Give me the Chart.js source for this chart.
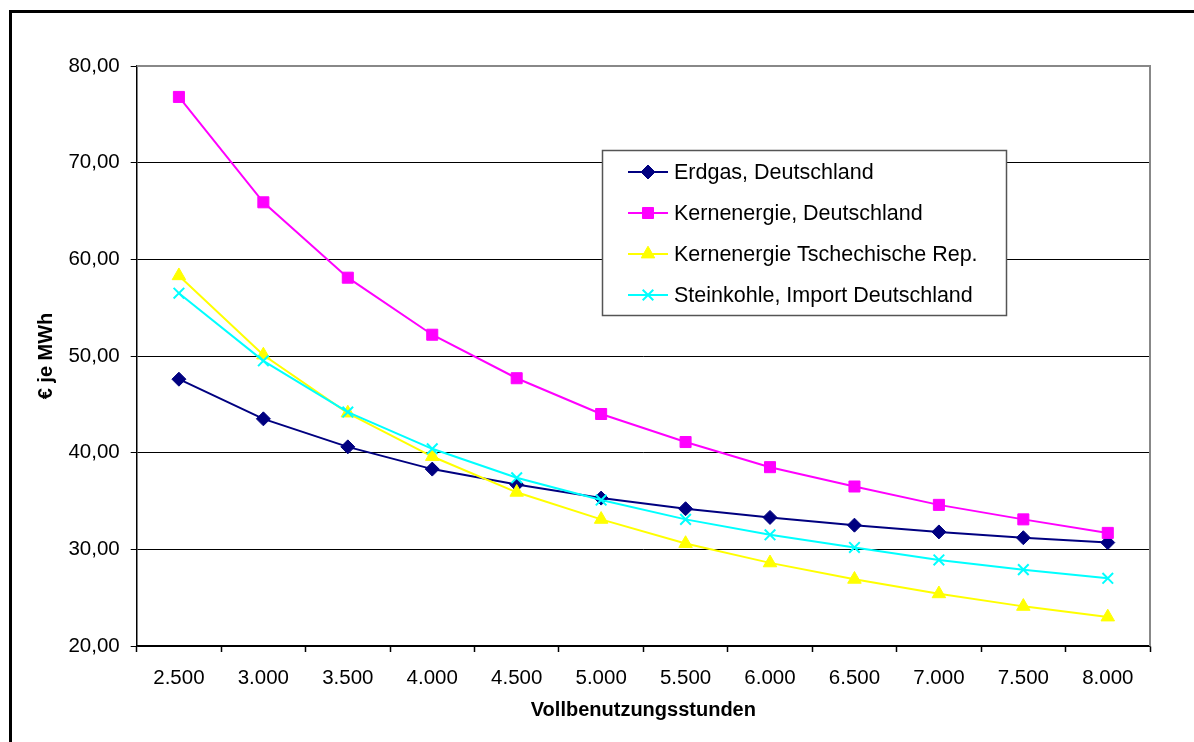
<!DOCTYPE html>
<html><head><meta charset="utf-8">
<script src="https://cdn.jsdelivr.net/npm/chart.js@4/dist/chart.umd.min.js"></script>
<style>
html,body{margin:0;padding:0;background:#fff;overflow:hidden}
#wrap{position:relative;width:1194px;height:742px}
#frame{position:absolute;left:9px;top:10px;width:1220px;height:800px;border-left:3px solid #000;border-top:3px solid #000;pointer-events:none}
</style></head>
<body><div id="wrap"><canvas id="c" width="1194" height="742"></canvas><div id="frame"></div></div>
<script>
const categories = ['2.500','3.000','3.500','4.000','4.500','5.000','5.500','6.000','6.500','7.000','7.500','8.000'];
const erdgasDE = [47.6,43.5,40.6,38.3,36.7,35.3,34.2,33.3,32.5,31.8,31.2,30.7];
const kernenergieDE = [76.8,65.9,58.1,52.2,47.7,44.0,41.1,38.5,36.5,34.6,33.1,31.7];
const kernenergieCZ = [58.3,50.1,44.1,39.6,35.9,33.1,30.6,28.6,26.9,25.4,24.1,23.0];
const steinkohleImport = [56.5,49.5,44.2,40.4,37.4,35.1,33.1,31.5,30.2,28.9,27.9,27.0];
const seriesNames = ['Erdgas, Deutschland','Kernenergie, Deutschland','Kernenergie Tschechische Rep.','Steinkohle, Import Deutschland'];
const yTickValues = [20,30,40,50,60,70,80];
const xTitle = 'Vollbenutzungsstunden';
const yTitle = '€ je MWh';

const FONT = '"Liberation Sans", Arial, Helvetica, sans-serif';
Chart.defaults.font.family = FONT;
Chart.defaults.color = '#000';

function ds(label, data, color, style, radius, order) {
  return {label, data, borderColor: color, backgroundColor: color, pointBackgroundColor: color,
    pointBorderColor: color, pointStyle: style, pointRadius: radius, pointHoverRadius: radius,
    pointBorderWidth: style === 'crossRot' ? 2 : 1, borderWidth: 2, tension: 0, order, clip: false};
}

const styles = [
  ['#000080','rectRot',7],
  ['#FF00FF','rect',7.8],
  ['#FFFF00','triangle',7.8],
  ['#00FFFF','crossRot',7.5]
];
const seriesData = [erdgasDE, kernenergieDE, kernenergieCZ, steinkohleImport];
const datasets = seriesData.map((d,i)=>ds(seriesNames[i], d, styles[i][0], styles[i][1], styles[i][2], 4-i));

function drawMarker(ctx, d, x, y) {
  ctx.save();
  ctx.fillStyle = d.pointBackgroundColor; ctx.strokeStyle = d.pointBorderColor;
  ctx.lineWidth = d.pointBorderWidth;
  if (Chart.helpers && Chart.helpers.drawPoint) {
    Chart.helpers.drawPoint(ctx, {pointStyle: d.pointStyle, radius: d.pointRadius, rotation: 0, borderWidth: d.pointBorderWidth}, x, y);
  }
  ctx.restore();
}

const frameAndLegend = {
  id: 'frameAndLegend',
  afterDatasetsDraw(chart) {
    const ctx = chart.ctx, a = chart.chartArea;
    ctx.save();
    ctx.strokeStyle = '#888'; ctx.lineWidth = 2;
    ctx.beginPath(); ctx.moveTo(a.left, a.top); ctx.lineTo(a.right, a.top); ctx.lineTo(a.right, a.bottom); ctx.stroke();
    const bx = 602.5, by = 150.5, bw = 404, bh = 165;
    ctx.fillStyle = '#fff'; ctx.fillRect(bx, by, bw, bh);
    ctx.strokeStyle = '#555'; ctx.lineWidth = 1.5; ctx.strokeRect(bx, by, bw, bh);
    const rows = [172, 213, 254, 295];
    chart.data.datasets.forEach((d, i) => {
      const y = rows[i];
      ctx.strokeStyle = d.borderColor; ctx.lineWidth = 2;
      ctx.beginPath(); ctx.moveTo(628, y); ctx.lineTo(668, y); ctx.stroke();
      drawMarker(ctx, d, 648, y);
      ctx.fillStyle = '#000'; ctx.font = '21.5px ' + FONT; ctx.textBaseline = 'middle'; ctx.textAlign = 'left';
      ctx.fillText(d.label, 674, y + 1);
    });
    ctx.restore();
  }
};

new Chart(document.getElementById('c'), {
  type: 'line',
  data: {labels: categories, datasets},
  options: {
    responsive: false, animation: false,
    layout: {padding: {top: 66, right: 44, left: 0, bottom: 0}},
    plugins: {legend: {display: false}, tooltip: {enabled: false}},
    scales: {
      x: {
        offset: true,
        afterFit(s) { s.height = 96; },
        grid: {offset: true, drawOnChartArea: false, drawTicks: true, tickLength: 6, tickColor: '#000', tickWidth: 1.5},
        border: {color: '#000', width: 1.5},
        ticks: {padding: 14, font: {size: 20.5}, color: '#000', maxRotation: 0, autoSkip: false},
        title: {display: true, text: xTitle, font: {size: 20, weight: 'bold'}, color: '#000', padding: {top: 0, bottom: 20}}
      },
      y: {
        min: 20, max: 80,
        afterFit(s) { s.width = 136.7; },
        afterBuildTicks(s) { s.ticks = yTickValues.map(v => ({value: v})); },
        grid: {color: c => (c.tick && c.tick.value === 80) ? '#888' : '#000', lineWidth: 1, drawTicks: true, tickLength: 6, tickColor: '#000'},
        border: {color: '#000', width: 1.5},
        ticks: {padding: 11, font: {size: 20.5}, color: '#000', callback: v => Number(v).toFixed(2).replace('.', ',')},
        title: {display: true, text: yTitle, font: {size: 20, weight: 'bold'}, color: '#000', padding: {top: 34, bottom: 0}}
      }
    }
  },
  plugins: [frameAndLegend]
});
</script>
</body></html>
